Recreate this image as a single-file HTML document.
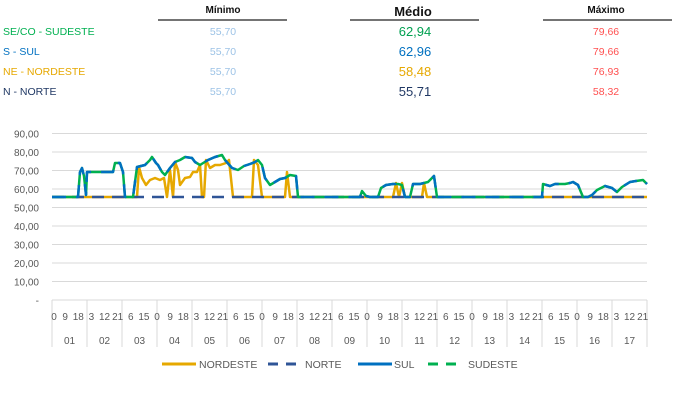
<!DOCTYPE html>
<html><head><meta charset="utf-8"><style>
body{margin:0;background:#fff;width:673px;height:402px;overflow:hidden;font-family:"Liberation Sans",sans-serif}
</style></head><body>
<svg id="s" width="673" height="402" xmlns="http://www.w3.org/2000/svg" font-family="Liberation Sans, sans-serif">
<g font-size="10" font-weight="bold" text-anchor="middle" fill="#111">
<text x="223" y="13">Mínimo</text>
<text x="413" y="16" font-size="13">Médio</text>
<text x="606" y="13">Máximo</text>
</g>
<g stroke="#222" stroke-width="1.3">
<line x1="158" y1="20" x2="287" y2="20"/><line x1="350" y1="20" x2="479" y2="20"/><line x1="543" y1="20" x2="672" y2="20"/>
</g>
<g font-size="10.5">
<text x="3" y="35" fill="#00b050">SE/CO - SUDESTE</text>
<text x="3" y="55" fill="#0070c0">S - SUL</text>
<text x="3" y="75" fill="#e6a800">NE - NORDESTE</text>
<text x="3" y="95" fill="#203864">N - NORTE</text>
</g>
<g font-size="10.5" fill="#9dc3e6" text-anchor="middle">
<text x="223" y="35">55,70</text><text x="223" y="55">55,70</text><text x="223" y="75">55,70</text><text x="223" y="95">55,70</text>
</g>
<g font-size="13" text-anchor="middle">
<text x="415" y="36" fill="#00a050">62,94</text><text x="415" y="56" fill="#0070c0">62,96</text><text x="415" y="76" fill="#e6a800">58,48</text><text x="415" y="96" fill="#203864">55,71</text>
</g>
<g font-size="10.5" fill="#ff5050" text-anchor="middle">
<text x="606" y="35">79,66</text><text x="606" y="55">79,66</text><text x="606" y="75">76,93</text><text x="606" y="95">58,32</text>
</g>
<g id="grid"></g>
<g id="axis" font-size="10" fill="#595959"></g>
<polyline fill="none" stroke="#e6a800" stroke-width="2.5" stroke-linejoin="round" points="52,197 125,197 133,197 137,197 139,167 142,178 146,185 150,180 155,178 160,180 164,178 167,197 170,170 173,197 175,162 178,170 180,185 185,178 190,177 193,172 197,172 200,165 202,197 204,197 206,160 210,168 215,165 220,165 226,163 229,160 233,197 252,197 254,160 258,165 262,197 285,197 287,172 290,197 393,197 396,183 399,197 402,183 405,197 422,197 424,183 427,197 647,197"/>
<polyline fill="none" stroke="#2f5597" stroke-width="2.5" stroke-dasharray="12 8" points="52,197 647,197"/>
<polyline fill="none" stroke="#00b050" stroke-width="2.5" stroke-linejoin="round" points="52,197 78,197 80,172 82,168 84,176 86,195 87,172 100,172 113,172 115,163 120,163 123,172 125,197 133,197 137,167 145,165 150,160 152,157 156,163 158,165 162,172 165,175 170,168 175,162 180,160 185,157 192,158 195,162 200,165 208,160 215,157 222,155 225,160 232,168 238,170 244,166 250,164 255,162 258,160 262,165 265,178 270,185 275,182 280,179 285,178 290,175 296,176 298,197 360,197 362,191 366,196 370,197 378,197 381,188 386,185 393,184 398,184 402,185 405,197 410,197 413,184 420,184 428,182 434,176 437,197 542,197 543,184 550,186 555,184 565,184 570,183 573,182 578,185 583,197 588,197 592,195 597,190 605,186 612,188 617,192 622,187 630,182 636,181 643,180 647,184"/>
<polyline fill="none" stroke="#0070c0" stroke-width="2.5" stroke-linejoin="round" stroke-dasharray="14 10" points="52,197 78,197 80,172 82,168 84,176 86,195 87,172 100,172 113,172 115,163 120,163 123,172 125,197 133,197 137,167 145,165 150,160 152,157 156,163 158,165 162,172 165,175 170,168 175,162 180,160 185,157 192,158 195,162 200,165 208,160 215,157 222,155 225,160 232,168 238,170 244,166 250,164 255,162 258,160 262,165 265,178 270,185 275,182 280,179 285,178 290,175 296,176 298,197 360,197 362,191 366,196 370,197 378,197 381,188 386,185 393,184 398,184 402,185 405,197 410,197 413,184 420,184 428,182 434,176 437,197 542,197 543,184 550,186 555,184 565,184 570,183 573,182 578,185 583,197 588,197 592,195 597,190 605,186 612,188 617,192 622,187 630,182 636,181 643,180 647,184"/>
<g font-size="10.5" fill="#595959">
<line x1="162" y1="364" x2="196" y2="364" stroke="#e6a800" stroke-width="3"/><text x="199" y="368">NORDESTE</text>
<line x1="268" y1="364" x2="300" y2="364" stroke="#2f5597" stroke-width="3" stroke-dasharray="10 8"/><text x="305" y="368">NORTE</text>
<line x1="358" y1="364" x2="392" y2="364" stroke="#0070c0" stroke-width="3"/><text x="394" y="368">SUL</text>
<line x1="428" y1="364" x2="462" y2="364" stroke="#00b050" stroke-width="3" stroke-dasharray="10 8"/><text x="468" y="368">SUDESTE</text>
</g>
</svg>
<script>
var ns="http://www.w3.org/2000/svg";
function el(p,t,a,tx){var e=document.createElementNS(ns,t);for(var k in a)e.setAttribute(k,a[k]);if(tx!==undefined)e.textContent=tx;document.getElementById(p).appendChild(e);}
for(var v=0;v<=90;v+=10){var y=300-v*1.85;if(v>0)el("grid","line",{x1:52,x2:647,y1:y,y2:y,stroke:"#d9d9d9","stroke-width":1});
el("axis","text",{x:39,y:y+4,"text-anchor":"end"},v==0?"-":v+",00");}
el("grid","line",{x1:52,x2:647,y1:300,y2:300,stroke:"#d9d9d9"});
var W=35;
for(var d=0;d<=17;d++){var x=52+d*W;el("grid","line",{x1:x,x2:x,y1:300,y2:347,stroke:"#d9d9d9"});}
for(var d=0;d<17;d++){el("axis","text",{x:52+d*W+W/2,y:344,"text-anchor":"middle"},(d<9?"0":"")+(d+1));}
for(var H=0;H<17*24;H+=9){var x=52+H/24*W;var lab=""+(H%24);
el("axis","text",{x:(H==0?x+2:x),y:320,"text-anchor":"middle"},lab);}
</script>
</body></html>
